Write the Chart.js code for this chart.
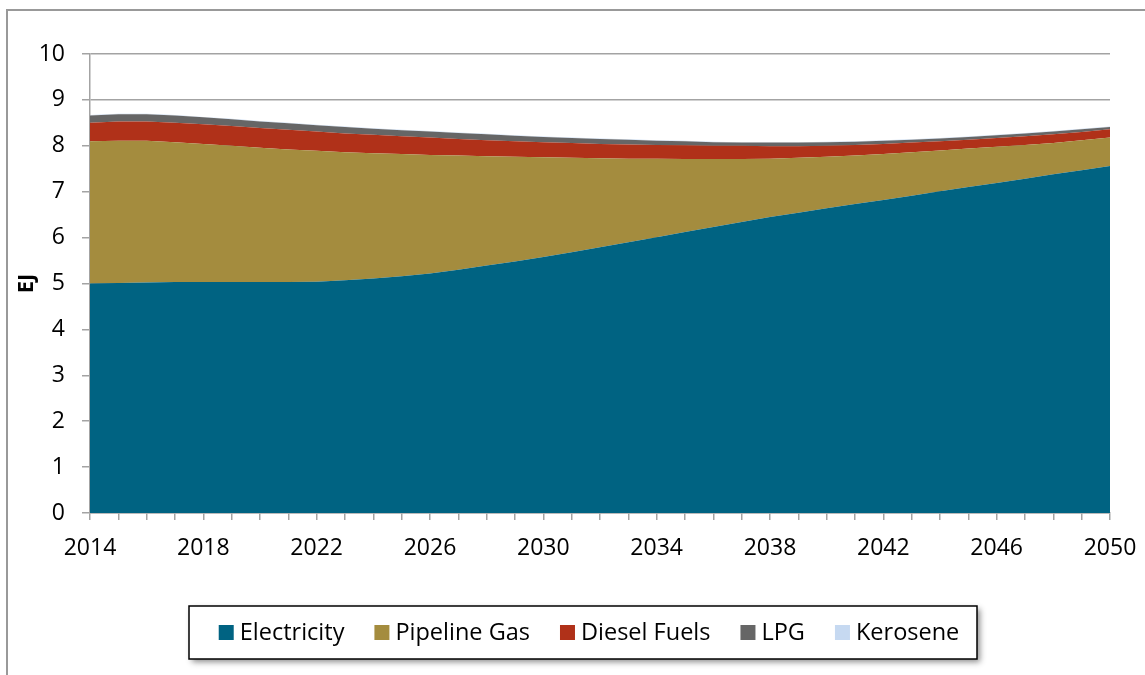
<!DOCTYPE html>
<html>
<head>
<meta charset="utf-8">
<script src="https://cdn.jsdelivr.net/npm/chart.js@4.4.1/dist/chart.umd.min.js"></script>
<style>
  html, body { margin: 0; padding: 0; background: #fff; }
  #wrap { position: relative; width: 1145px; height: 675px; }
</style>
</head>
<body>
<div id="wrap"><canvas id="myChart" width="1145" height="675"></canvas></div>
<script>
/* data, EJ per year */
const years = ['2014', '2015', '2016', '2017', '2018', '2019', '2020', '2021', '2022', '2023',
  '2024', '2025', '2026', '2027', '2028', '2029', '2030', '2031', '2032', '2033',
  '2034', '2035', '2036', '2037', '2038', '2039', '2040', '2041', '2042', '2043',
  '2044', '2045', '2046', '2047', '2048', '2049', '2050'];

const electricity = [5.00, 5.01, 5.02, 5.03, 5.03, 5.03, 5.03, 5.03, 5.04, 5.07,
  5.11, 5.16, 5.22, 5.30, 5.39, 5.48, 5.58, 5.68, 5.79, 5.90,
  6.01, 6.12, 6.23, 6.34, 6.45, 6.54, 6.64, 6.73, 6.82, 6.91,
  7.01, 7.10, 7.19, 7.28, 7.38, 7.47, 7.56];

const pipelineGas = [3.10, 3.10, 3.09, 3.05, 3.01, 2.97, 2.93, 2.89, 2.85, 2.79,
  2.73, 2.66, 2.58, 2.49, 2.38, 2.28, 2.17, 2.06, 1.94, 1.82,
  1.71, 1.59, 1.48, 1.37, 1.27, 1.20, 1.12, 1.06, 1.00, 0.95,
  0.89, 0.84, 0.79, 0.74, 0.68, 0.65, 0.62];

const dieselFuels = [0.40, 0.42, 0.42, 0.42, 0.43, 0.43, 0.43, 0.43, 0.42, 0.41,
  0.40, 0.39, 0.38, 0.36, 0.35, 0.34, 0.33, 0.32, 0.31, 0.31,
  0.30, 0.30, 0.29, 0.29, 0.27, 0.25, 0.24, 0.23, 0.22, 0.21,
  0.20, 0.19, 0.19, 0.19, 0.19, 0.18, 0.18];

const lpg = [0.16, 0.16, 0.16, 0.16, 0.15, 0.15, 0.14, 0.14, 0.14, 0.14,
  0.13, 0.13, 0.13, 0.13, 0.13, 0.12, 0.11, 0.11, 0.11, 0.10,
  0.09, 0.09, 0.08, 0.07, 0.08, 0.08, 0.08, 0.07, 0.07, 0.06,
  0.06, 0.06, 0.06, 0.06, 0.06, 0.06, 0.05];

const kerosene = [0.01, 0.01, 0.01, 0.01, 0.01, 0.01, 0.01, 0.01, 0.01, 0.01,
  0.01, 0.01, 0.01, 0.01, 0.01, 0.01, 0.01, 0.01, 0.01, 0.01,
  0.01, 0.01, 0.01, 0.01, 0.01, 0.01, 0.01, 0.01, 0.01, 0.01,
  0.01, 0.01, 0.01, 0.01, 0.01, 0.01, 0.01];

const yTicks = [0, 1, 2, 3, 4, 5, 6, 7, 8, 9, 10];

const FONT = "'Open Sans', 'DejaVu Sans', sans-serif";
const GRID = '#a3a3a3';

function area(label, data, color, fill) {
  return {
    label: label,
    data: data,
    backgroundColor: color,
    borderColor: color,
    borderWidth: 0,
    pointRadius: 0,
    pointHoverRadius: 0,
    tension: 0,
    fill: fill
  };
}

// outer frame + boxed legend, like the spreadsheet export
const frameAndLegend = {
  id: 'frameAndLegend',
  beforeDraw(chart) {
    const c = chart.ctx;
    c.save();
    c.strokeStyle = '#999999';
    c.lineWidth = 2;
    c.beginPath();
    c.moveTo(1145, 10);
    c.lineTo(7, 10);
    c.lineTo(7, 675);
    c.stroke();
    c.restore();
  },
  afterDraw(chart) {
    const c = chart.ctx;
    const box = { x: 189, y: 606, w: 788, h: 53 };
    c.save();
    c.shadowColor = 'rgba(0,0,0,0.45)';
    c.shadowBlur = 6;
    c.shadowOffsetX = 3;
    c.shadowOffsetY = 3;
    c.fillStyle = '#fff';
    c.fillRect(box.x, box.y, box.w, box.h);
    c.restore();

    c.save();
    c.strokeStyle = '#000';
    c.lineWidth = 1.5;
    c.strokeRect(box.x, box.y, box.w, box.h);

    c.font = '23.5px ' + FONT;
    c.textBaseline = 'middle';
    const sq = 15, gapText = 6, gapItem = 30;
    const ds = chart.data.datasets;
    let total = 0;
    ds.forEach((d, i) => {
      total += sq + gapText + c.measureText(d.label).width;
      if (i < ds.length - 1) total += gapItem;
    });
    let x = box.x + box.w / 2 - total / 2 + 6;
    const cy = box.y + box.h / 2;
    ds.forEach(d => {
      c.fillStyle = d.backgroundColor;
      c.fillRect(x, cy - sq / 2, sq, sq);
      x += sq + gapText;
      c.fillStyle = '#000';
      c.fillText(d.label, x, cy + 1);
      x += c.measureText(d.label).width + gapItem;
    });
    c.restore();
  }
};

const ctx = document.getElementById('myChart').getContext('2d');
const myChart = new Chart(ctx, {
  type: 'line',
  data: {
    labels: years,
    datasets: [
      area('Electricity', electricity, '#006382', 'origin'),
      area('Pipeline Gas', pipelineGas, '#A48C3E', '-1'),
      area('Diesel Fuels', dieselFuels, '#B03119', '-1'),
      area('LPG', lpg, '#666666', '-1'),
      area('Kerosene', kerosene, '#C6D9F1', '-1')
    ]
  },
  options: {
    responsive: false,
    animation: false,
    layout: { padding: { left: 0, top: 54, right: 35, bottom: 112 } },
    plugins: {
      legend: { display: false },
      tooltip: { enabled: false },
      title: { display: false }
    },
    scales: {
      x: {
        offset: false,
        afterFit: (scale) => {
          scale.height = 50;
          scale.paddingLeft = 0;
          scale.paddingRight = 0;
        },
        grid: {
          display: true,
          drawOnChartArea: false,
          drawTicks: true,
          tickLength: 7,
          color: GRID,
          lineWidth: 1.5,
          offset: false
        },
        border: { display: true, color: GRID, width: 1.5 },
        ticks: {
          autoSkip: false,
          maxRotation: 0,
          minRotation: 0,
          padding: 15,
          color: '#000',
          font: { family: FONT, size: 23 },
          callback: (v, i) => (i % 4 === 0 ? years[i] : '')
        }
      },
      y: {
        stacked: true,
        min: yTicks[0],
        max: yTicks[yTicks.length - 1],
        afterFit: (scale) => {
          scale.width = 90;
          scale.paddingTop = 0;
          scale.paddingBottom = 0;
        },
        afterBuildTicks: (scale) => { scale.ticks = yTicks.map(v => ({ value: v })); },
        grid: {
          color: GRID,
          lineWidth: 1.5,
          tickLength: 8,
          drawTicks: true
        },
        border: { display: true, color: GRID, width: 1.5 },
        ticks: {
          padding: 17,
          color: '#000',
          font: { family: FONT, size: 23 }
        },
        title: {
          display: true,
          text: 'EJ',
          color: '#000',
          font: { family: FONT, size: 22, weight: 'bold' },
          padding: { top: 14, bottom: 0 }
        }
      }
    }
  },
  plugins: [frameAndLegend]
});
</script>
</body>
</html>
